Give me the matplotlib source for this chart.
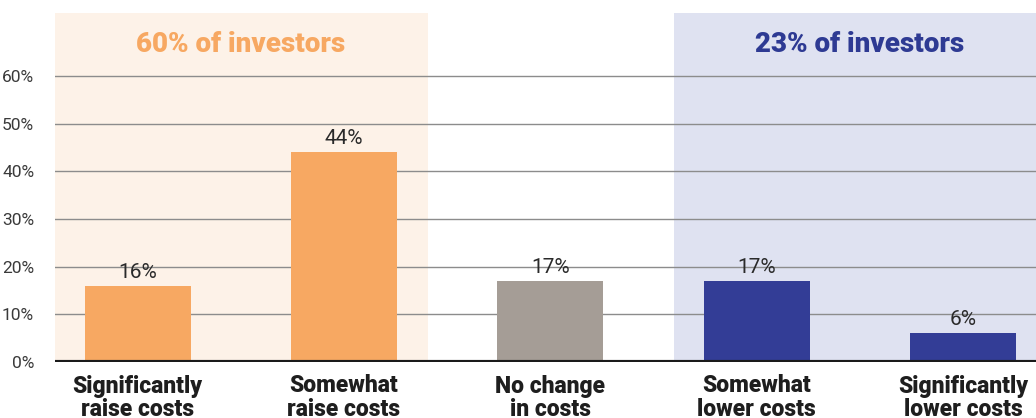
#!/usr/bin/env python3
"""Investor expectations on cost impact, bar chart with shaded groups."""
import matplotlib

matplotlib.use("Agg")
import matplotlib.pyplot as plt

CATEGORIES = [
    "Significantly\nraise costs",
    "Somewhat\nraise costs",
    "No change\nin costs",
    "Somewhat\nlower costs",
    "Significantly\nlower costs",
]
SHARES = [16, 44, 17, 17, 6]
Y_TICKS = [0, 10, 20, 30, 40, 50, 60]
GROUP_LABELS = ["60% of investors", "23% of investors"]

ORANGE = "#F7A862"
GREY = "#A59D96"
BLUE = "#333D96"
BAR_COLORS = [ORANGE, ORANGE, GREY, BLUE, BLUE]

plt.rcParams["font.family"] = ["Roboto", "DejaVu Sans"]

figure = plt.figure(figsize=(10.36, 4.18), dpi=100)
axis = figure.add_axes([55 / 1036, 56 / 418, 981 / 1036, 349 / 418])

x_left, x_right = -0.40, 4.353
axis.set_xlim(x_left, x_right)
axis.set_ylim(0, 73.2)

# shaded group bands
axis.axvspan(x_left, 1.406, color="#FDF2E8", zorder=0, lw=0)
axis.axvspan(2.598, x_right, color="#DFE2F1", zorder=0, lw=0)

for value in Y_TICKS[1:]:
    axis.axhline(value, color="#8C8C8C", lw=1.0, zorder=1)

positions = list(range(len(CATEGORIES)))
bars = axis.bar(positions, SHARES, width=0.514, color=BAR_COLORS, zorder=2)
for bar, value in zip(bars, SHARES):
    axis.annotate(
        f"{value}%",
        (bar.get_x() + bar.get_width() / 2, value),
        xytext=(0, 3),
        textcoords="offset points",
        ha="center",
        va="bottom",
        fontsize=15,
        color="#2A2A2A",
        zorder=3,
    )

axis.axhline(0, color="#1A1A1A", lw=3, zorder=4)

axis.text(0.5, 66.6, GROUP_LABELS[0], ha="center", va="center",
          fontsize=20, fontweight="heavy", color="#F7A862")
axis.text(3.5, 66.6, GROUP_LABELS[1], ha="center", va="center",
          fontsize=20, fontweight="heavy", color="#2E3A93")

axis.set_yticks(Y_TICKS, labels=[f"{v}%" for v in Y_TICKS])
axis.set_xticks(positions, labels=CATEGORIES)
axis.tick_params(axis="y", length=0, pad=15, labelsize=12.5, labelcolor="#3A3A3A")
axis.tick_params(axis="x", length=0, pad=9, labelsize=16.5)
for label in axis.get_xticklabels():
    label.set_fontweight("heavy")
    label.set_color("#1E1E1E")
    label.set_linespacing(1.05)

for spine in axis.spines.values():
    spine.set_visible(False)

figure.savefig("out.png", dpi=100)
